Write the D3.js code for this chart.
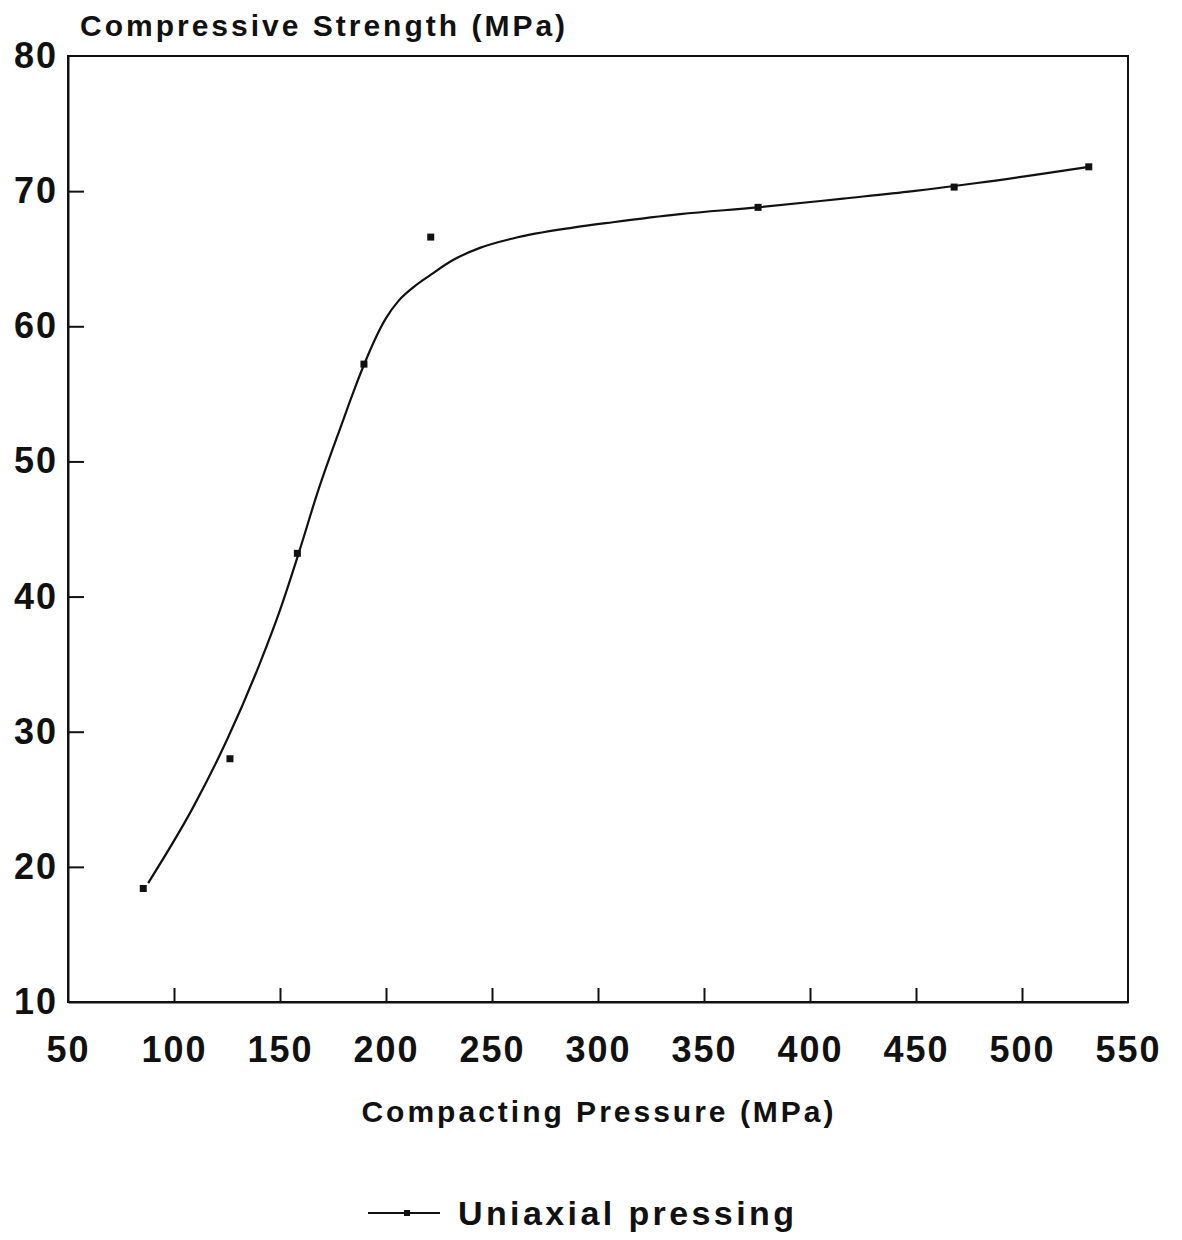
<!DOCTYPE html>
<html>
<head>
<meta charset="utf-8">
<script src="https://cdn.jsdelivr.net/npm/d3@7"></script>
<style>
  body { margin: 0; background: #fff; }
  text { font-family: "Liberation Sans", Arial, sans-serif; font-weight: bold; fill: #111; }
</style>
</head>
<body>
<div id="chart"></div>
<script>
// measured points (compacting pressure MPa, compressive strength MPa)
var pressure = [85.5, 126.4, 158.2, 189.6, 221.1, 375.5, 468, 531.5];
var strength = [18.4, 28.0, 43.2, 57.2, 66.6, 68.8, 70.3, 71.8];

// fitted curve
var curveX = [87.8, 109, 125, 140.6, 150, 159.4, 167.5, 179.2, 185, 190, 195, 200, 206, 213, 221, 231.6, 244.3, 259.9, 288.2, 307, 338.7, 375.5, 415.6, 448.6, 478.8, 531.5];
var curveY = [18.8, 24.4, 29.4, 35.1, 39.0, 43.5, 47.6, 52.8, 55.3, 57.3, 59.1, 60.6, 61.9, 62.9, 63.8, 64.9, 65.8, 66.5, 67.3, 67.7, 68.3, 68.8, 69.45, 70.0, 70.6, 71.8];

var xTicks = [50, 100, 150, 200, 250, 300, 350, 400, 450, 500, 550];
var yTicks = [10, 20, 30, 40, 50, 60, 70, 80];

var W = 1182, H = 1240;
var margin = { top: 56, right: 54, bottom: 238, left: 68 },
    width = W - margin.left - margin.right,
    height = H - margin.top - margin.bottom;

var svg = d3.select("#chart").append("svg")
    .attr("width", W)
    .attr("height", H);

var g = svg.append("g")
    .attr("transform", "translate(" + margin.left + "," + margin.top + ")");

var x = d3.scaleLinear().domain([50, 550]).range([0, width]);
var y = d3.scaleLinear().domain([10, 80]).range([height, 0]);

// frame
g.append("rect")
    .attr("x", 0).attr("y", 0)
    .attr("width", width).attr("height", height)
    .attr("fill", "none")
    .attr("stroke", "#111")
    .attr("stroke-width", 2);

// x axis, ticks pointing inward
var xAxis = g.append("g")
    .attr("transform", "translate(0," + height + ")")
    .call(d3.axisBottom(x).tickValues(xTicks).tickSizeInner(-14).tickSizeOuter(0).tickPadding(34));
xAxis.select(".domain").attr("stroke-width", 2).attr("stroke", "#111");
xAxis.selectAll(".tick line").attr("stroke-width", 2).attr("stroke", "#111")
    .attr("display", function(d) { return (d == 50 || d == 550) ? "none" : null; });
xAxis.selectAll("text")
    .style("font-size", "36px")
    .style("letter-spacing", "2px")
    .attr("fill", "#111");

// y axis
var yAxis = g.append("g")
    .call(d3.axisLeft(y).tickValues(yTicks).tickSizeInner(-16).tickSizeOuter(0).tickPadding(14));
yAxis.select(".domain").attr("stroke-width", 2).attr("stroke", "#111");
yAxis.selectAll(".tick line").attr("stroke-width", 2).attr("stroke", "#111")
    .attr("display", function(d) { return (d == 10 || d == 80) ? "none" : null; });
yAxis.selectAll("text")
    .style("font-size", "36px")
    .style("letter-spacing", "2px")
    .attr("x", -10)
    .attr("fill", "#111");

// fitted line
var curvePts = curveX.map(function(d, i) { return [d, curveY[i]]; });
var line = d3.line()
    .x(function(d) { return x(d[0]); })
    .y(function(d) { return y(d[1]); })
    .curve(d3.curveMonotoneX);

g.append("path")
    .datum(curvePts)
    .attr("d", line)
    .attr("fill", "none")
    .attr("stroke", "#111")
    .attr("stroke-width", 2.2);

// markers
g.selectAll(".pt")
    .data(pressure)
  .enter().append("rect")
    .attr("class", "pt")
    .attr("x", function(d) { return x(d) - 3.5; })
    .attr("y", function(d, i) { return y(strength[i]) - 3.5; })
    .attr("width", 7)
    .attr("height", 7)
    .attr("fill", "#111");

// axis titles
svg.append("text")
    .attr("x", 80)
    .attr("y", 36)
    .style("font-size", "30px")
    .style("letter-spacing", "3px")
    .text("Compressive Strength (MPa)");

svg.append("text")
    .attr("x", 599)
    .attr("y", 1122)
    .attr("text-anchor", "middle")
    .style("font-size", "30px")
    .style("letter-spacing", "3px")
    .text("Compacting Pressure (MPa)");

// legend
var lg = svg.append("g").attr("transform", "translate(368,1213)");
lg.append("line")
    .attr("x1", 0).attr("x2", 72)
    .attr("y1", 0).attr("y2", 0)
    .attr("stroke", "#111").attr("stroke-width", 2);
lg.append("rect")
    .attr("x", 36).attr("y", -3).attr("width", 6).attr("height", 6)
    .attr("fill", "#111");
lg.append("text")
    .attr("x", 90)
    .attr("y", 12)
    .style("font-size", "34px")
    .style("letter-spacing", "3.4px")
    .text("Uniaxial pressing");
</script>
</body>
</html>
